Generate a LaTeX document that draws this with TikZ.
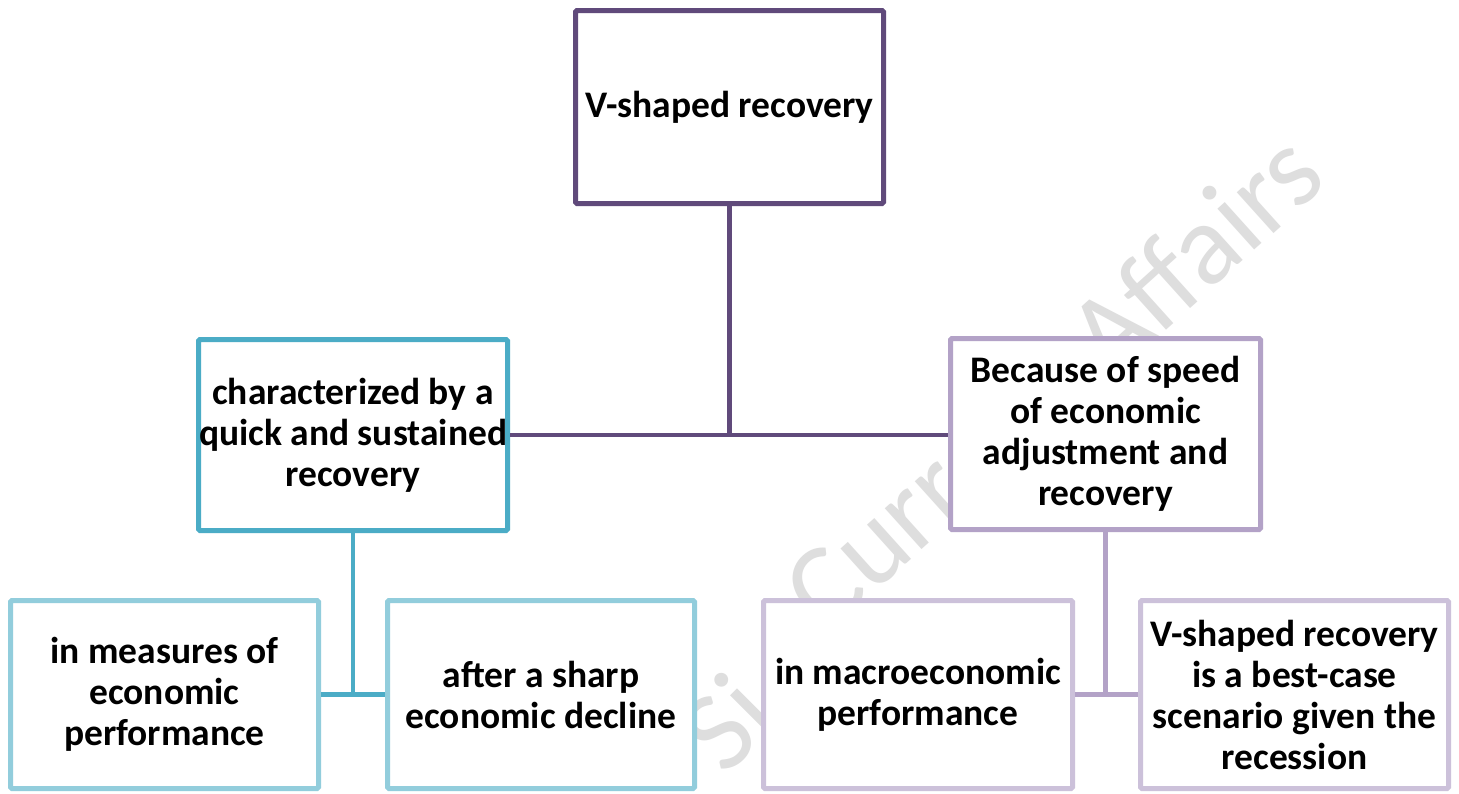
\documentclass[tikz,border=0pt]{standalone}
\usepackage{fontspec}
\setmainfont{Carlito}
\definecolor{topc}{HTML}{604A7B}
\definecolor{tealc}{HTML}{4BACC6}
\definecolor{ltealc}{HTML}{92CDDC}
\definecolor{lavc}{HTML}{B3A2C7}
\definecolor{llavc}{HTML}{CCC1DA}
\definecolor{wmc}{HTML}{DEDEDE}
\begin{document}
\begin{tikzpicture}[x=1pt,y=-1pt,
  box/.style={draw, line width=5pt, fill=white, rounded corners=1.5pt, inner sep=0pt,
    align=center, text=black, font=\bfseries\fontsize{37.5}{41}\selectfont},
  conn/.style={line width=4.5pt},
  wm/.style={text=wmc, font=\fontsize{115}{120}\selectfont, inner sep=0pt}]
\fill[white] (0,0) rectangle (1459,793);
\useasboundingbox (0,0) rectangle (1459,793);
% watermark
\node[wm, rotate=45] (wm1) at (726,722) {Si};
\node[wm, rotate=42] (wm2) at (1052,380) {Current Affairs};
% boxes
\node[box, draw=topc, minimum width=308pt, minimum height=193pt] (top) at (729.5,107) {V-shaped recovery};
\node[box, draw=tealc, minimum width=309pt, minimum height=191pt] (lm) at (353,435) {characterized by a\\quick and sustained\\recovery};
\node[box, draw=lavc, minimum width=310pt, minimum height=191pt] (rm) at (1105.5,434) {Because of speed\\of economic\\adjustment and\\recovery};
\node[box, draw=ltealc, minimum width=308pt, minimum height=188pt] (bl1) at (164.5,694.5) {in measures of\\economic\\performance};
\node[box, draw=ltealc, minimum width=307pt, minimum height=188pt] (bl2) at (541,694.5) {after a sharp\\economic decline};
\node[box, draw=llavc, minimum width=309pt, minimum height=188pt] (br1) at (918,694.5) {in macroeconomic\\performance};
\node[box, draw=llavc, minimum width=308pt, minimum height=188pt] (br2) at (1294.5,694.5) {V-shaped recovery\\is a best-case\\scenario given the\\recession};
% connectors
\draw[conn, topc] (top.south) -- (top.south |- lm.east);
\draw[conn, topc] (lm.east) -- (lm.east -| rm.west);
\draw[conn, tealc] (lm.south) -- (lm.south |- bl1.east);
\draw[conn, tealc] (bl1.east) -- (bl2.west);
\draw[conn, lavc] (rm.south) -- (rm.south |- br1.east);
\draw[conn, lavc] (br1.east) -- (br2.west);
\end{tikzpicture}
\end{document}
